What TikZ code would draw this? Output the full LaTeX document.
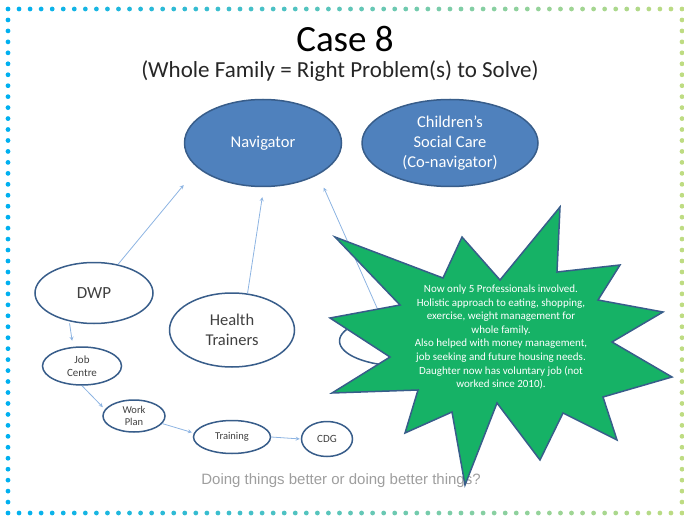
\documentclass[tikz,border=0pt]{standalone}
\usepackage{fontspec}
\setmainfont{Carlito}
\newfontfamily\footfont{Liberation Sans}
\usetikzlibrary{shapes.geometric}
\definecolor{navblue}{RGB}{79,129,189}
\definecolor{edgeblue}{RGB}{56,93,138}
\definecolor{linkblue}{RGB}{141,180,226}
\definecolor{textgray}{RGB}{64,64,64}
\definecolor{burst}{RGB}{22,178,102}
\definecolor{dotblue}{RGB}{0,176,240}
\definecolor{dotgreen}{RGB}{190,220,130}
\begin{document}
\begin{tikzpicture}[x=1pt,y=-1pt,>=stealth,
  bubble/.style={ellipse, draw=edgeblue, line width=1.5pt, fill=white, text=textgray, inner sep=0pt, align=center},
  lead/.style={bubble, fill=navblue, text=white},
  link/.style={->, draw=linkblue, line width=0.8pt}]
\useasboundingbox (0,0) rectangle (684,518);
% dotted frame
\foreach \i in {0,...,61} {
  \pgfmathsetmacro\p{100-1.6393*\i}
  \fill[dotblue!\p!dotgreen] (8+11.049*\i,9) circle (2.4);
  \fill[dotblue!\p!dotgreen] (8+11.049*\i,513) circle (2.4);
}
\foreach \j in {1,...,45} {
  \fill[dotblue] (8,9+10.957*\j) circle (2.4);
  \fill[dotgreen] (682,9+10.957*\j) circle (2.4);
}
% titles
\node[anchor=base, font=\fontsize{37}{44}\selectfont] (title) at (345,52) {Case 8};
\node[anchor=base, font=\fontsize{23}{28}\selectfont, text=black!85] (sub) at (340,78) {(Whole Family = Right Problem(s) to Solve)};
% ellipses
\node[lead, minimum width=157pt, minimum height=87pt, font=\fontsize{16.5}{20}\selectfont] (nav) at (263,143) {Navigator};
\node[lead, minimum width=176pt, minimum height=87pt, font=\fontsize{16.5}{20}\selectfont] (csc) at (450,143) {Children's\\Social Care\\(Co-navigator)};
\node[bubble, minimum width=118pt, minimum height=61pt, font=\fontsize{17}{20}\selectfont] (dwp) at (94,293) {DWP};
\node[bubble, minimum width=125pt, minimum height=74pt, font=\fontsize{16.5}{20}\selectfont] (ht) at (232,330) {Health\\Trainers};
\node[bubble, minimum width=79pt, minimum height=38pt, font=\fontsize{11}{13}\selectfont] (jc) at (82,366) {Job\\Centre};
\node[bubble, minimum width=62pt, minimum height=32pt, font=\fontsize{10.5}{12.5}\selectfont] (wp) at (134,416) {Work\\Plan};
\node[bubble, minimum width=77pt, minimum height=33pt, font=\fontsize{10.5}{12.5}\selectfont] (tr) at (232,437) {Training};
\node[bubble, minimum width=51pt, minimum height=35pt, font=\fontsize{11}{13}\selectfont] (cdg) at (327,439) {CDG};
\node[bubble, minimum width=125pt, minimum height=50pt] (gp) at (402,341) {};
% arrows
\draw[link, shorten >=22pt] (dwp.50) -- (nav.201);
\draw[link, shorten >=10pt] (ht.67) -- (nav.271);
\draw[link, shorten >=14pt] (gp.131) -- (nav.330);
\draw[link, shorten <=2pt, shorten >=6pt] (dwp.229) -- (jc.115);
\draw[link, shorten >=3pt] (jc.south) -- (wp.167);
\draw[link, shorten >=2pt] (wp.345) -- (tr.174);
\draw[link, shorten >=1pt] (tr.east) -- (cdg.west);
\node[anchor=base, font=\footfont\fontsize{15}{18}\selectfont, text=black!38] (foot) at (341,484) {Doing things better or doing better things?};
% starburst
\draw[fill=burst, draw=edgeblue, line width=1.5pt] (335,237) -- (443,278) -- (462,237) -- (500,280)
  -- (560,207) -- (557,272) -- (620,265) -- (598,300) -- (663,312) -- (612,342)
  -- (672,377) -- (603,397) -- (617,440) -- (563,413) -- (540,460) -- (497,403)
  -- (465,485) -- (452,412) -- (405,433) -- (418,390) -- (332,393) -- (390,357)
  -- (330,318) -- (400,305) -- cycle;
\node[text=white, align=center, font=\fontsize{11}{13.6}\selectfont] (note) at (501,337) {Now only 5 Professionals involved.\\Holistic approach to eating, shopping,\\exercise, weight management for\\whole family.\\Also helped with money management,\\job seeking and future housing needs.\\Daughter now has voluntary job (not\\worked since 2010).};
\end{tikzpicture}
\end{document}
